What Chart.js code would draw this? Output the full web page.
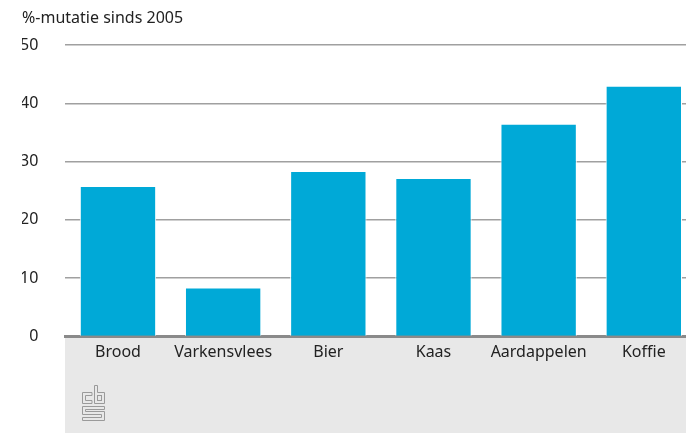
<!DOCTYPE html>
<html>
<head>
<meta charset="utf-8">
<script src="https://cdn.jsdelivr.net/npm/chart.js@4"></script>
<style>
  html, body { margin: 0; padding: 0; background: #fff; overflow: hidden; }
  #wrap { width: 700px; height: 433px; position: relative; }
</style>
</head>
<body>
<div id="wrap"><canvas id="grafiek"></canvas></div>
<script>
// data
const categorieen = ['Brood', 'Varkensvlees', 'Bier', 'Kaas', 'Aardappelen', 'Koffie'];
const mutatie = [25.8, 8.4, 28.4, 27.2, 36.5, 43.0];
const yTicks = [0, 10, 20, 30, 40, 50];
const titel = '%-mutatie sinds 2005';

const FONT = '"Noto Sans", "Open Sans", sans-serif';
const TEKST = '#222222';

// grijze band onder de x-as + cbs-logo
const achtergrond = {
    id: 'achtergrond',
    beforeDraw(chart) {
        const c = chart.ctx;
        const a = chart.chartArea;
        c.save();
        c.fillStyle = '#e8e8e8';
        c.fillRect(Math.round(a.left), a.bottom + 1, chart.width, chart.height - a.bottom);
        c.restore();
    },
    afterDraw(chart) {
        const c = chart.ctx;
        c.save();
        c.strokeStyle = '#9a9a9a';
        c.lineWidth = 1;
        // c
        c.beginPath();
        c.moveTo(92, 392.5); c.lineTo(82.5, 392.5); c.lineTo(82.5, 403.5); c.lineTo(92, 403.5);
        c.lineTo(92, 400.5); c.lineTo(85.5, 400.5); c.lineTo(85.5, 395.5); c.lineTo(92, 395.5); c.closePath();
        c.stroke();
        // b
        c.beginPath();
        c.moveTo(94.5, 385.5); c.lineTo(97.5, 385.5); c.lineTo(97.5, 392.5); c.lineTo(104.5, 392.5);
        c.lineTo(104.5, 403.5); c.lineTo(94.5, 403.5); c.closePath();
        c.stroke();
        c.strokeRect(97.5, 395.5, 4, 5);
        // s
        c.beginPath();
        c.moveTo(104.5, 406.5); c.lineTo(82.5, 406.5); c.lineTo(82.5, 414.5); c.lineTo(101.5, 414.5);
        c.lineTo(101.5, 417.5); c.lineTo(82.5, 417.5); c.lineTo(82.5, 420.5); c.lineTo(104.5, 420.5);
        c.lineTo(104.5, 411.5); c.lineTo(85.5, 411.5); c.lineTo(85.5, 409.5); c.lineTo(104.5, 409.5); c.closePath();
        c.stroke();
        c.restore();
    }
};

new Chart(document.getElementById('grafiek'), {
    type: 'bar',
    data: {
        labels: categorieen,
        datasets: [{
            data: mutatie,
            backgroundColor: '#00a9d7',
            borderColor: '#ffffff',
            borderWidth: { top: 1, left: 1, right: 1, bottom: 0 },
            borderSkipped: 'bottom',
            categoryPercentage: 1,
            barPercentage: 0.726
        }]
    },
    options: {
        responsive: true,
        maintainAspectRatio: false,
        animation: false,
        layout: { padding: { left: 22, right: 3.6, top: 0, bottom: 0 } },
        plugins: {
            legend: { display: false },
            tooltip: { enabled: false },
            title: {
                display: true,
                text: titel,
                align: 'start',
                color: TEKST,
                font: { family: FONT, size: 16, weight: 'normal' },
                padding: { top: 9, bottom: 16.8 }
            }
        },
        scales: {
            x: {
                z: 1,
                grid: { display: false, drawTicks: false },
                border: { display: true, color: '#8a8a8a', width: 3 },
                ticks: {
                    color: TEKST,
                    font: { family: FONT, size: 16 },
                    padding: 6,
                    maxRotation: 0,
                    autoSkip: false
                },
                afterFit(s) { s.height = 96.5; }
            },
            y: {
                min: 0,
                max: 50,
                afterBuildTicks(s) { s.ticks = yTicks.map(v => ({ value: v })); },
                grid: { color: '#a0a0a0', lineWidth: 1.5, drawTicks: false },
                border: { display: false },
                ticks: {
                    color: TEKST,
                    font: { family: FONT, size: 16 },
                    padding: 27
                },
                afterFit(s) { s.width = 43.4; }
            }
        }
    },
    plugins: [achtergrond]
});
</script>
</body>
</html>
